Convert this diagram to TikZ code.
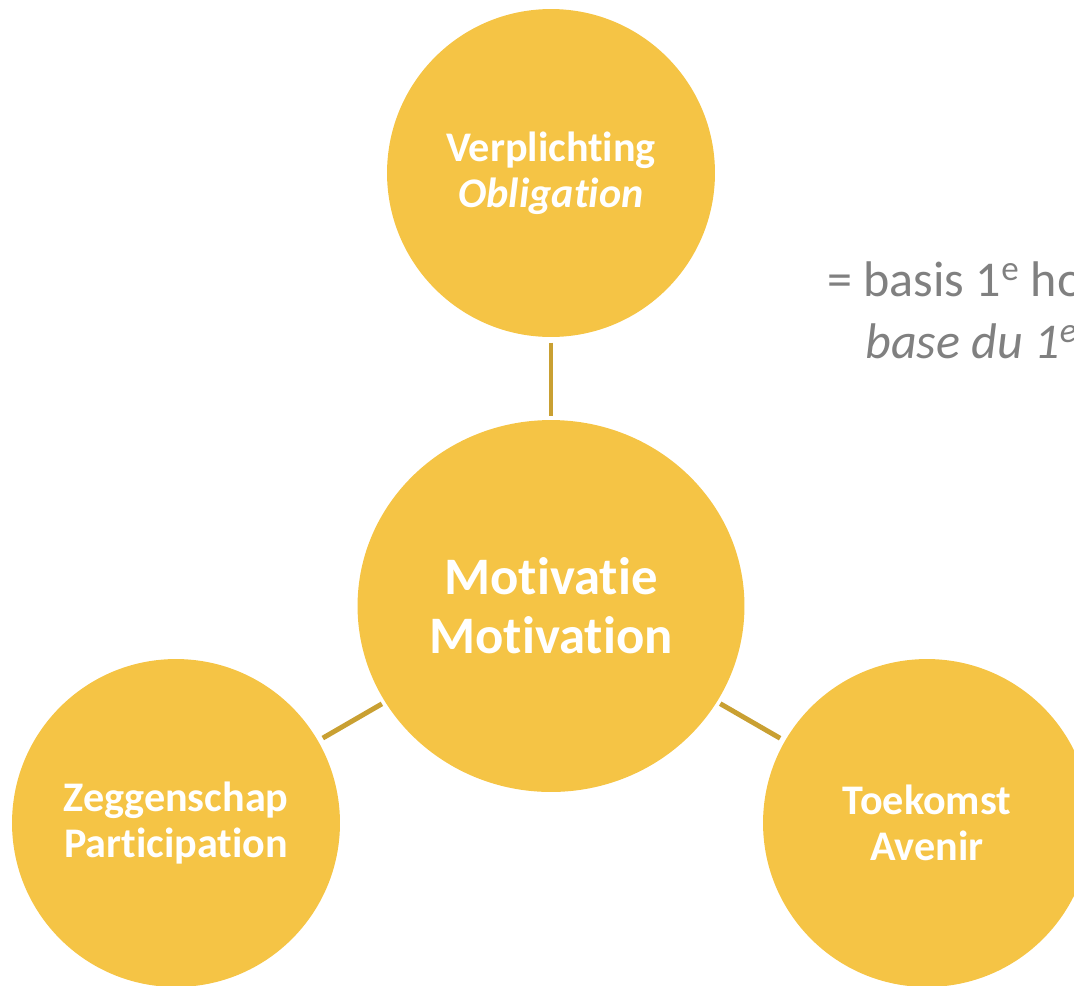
\documentclass[tikz,border=0pt]{standalone}
\usepackage{fontspec}
\setmainfont{Carlito}[Ligatures=NoCommon]
\usetikzlibrary{shapes.geometric}
\definecolor{bolgeel}{HTML}{F5C445}
\definecolor{lijnoker}{HTML}{C9A032}
\definecolor{tekstgrijs}{HTML}{808080}

\begin{document}
\begin{tikzpicture}[x=0.02cm,y=-0.02cm,
    bol/.style={circle,fill=bolgeel,minimum size=6.56cm,inner sep=0pt,
      text=white,font=\fontsize{24}{26}\selectfont\bfseries,align=center},
    lijn/.style={draw=lijnoker,line width=2.8pt,shorten <=3pt,shorten >=2pt},
    uitleg/.style={anchor=base west,inner sep=0pt,text=tekstgrijs,
      font=\fontsize{28.5}{32}\selectfont}]
  \useasboundingbox (0,0) rectangle (1074,985);
  \clip (0,0) rectangle (1074,985);
  \node[bol] (plicht) at (551,173) {Verplichting\\\textit{Obligation}};
  \node[ellipse,fill=bolgeel,minimum width=7.74cm,minimum height=7.44cm,inner sep=0pt,
    text=white,font=\fontsize{30}{33.5}\selectfont\bfseries,align=center]
    (motief) at (551,606) {Motivatie\\Motivation};
  \node[bol] (inspraak) at (176,823) {Zeggenschap\\Participation};
  \node[bol] (toekomst) at (927,823) {Toekomst\\Avenir};
  \draw[lijn] (plicht) -- (motief);
  \draw[lijn] (inspraak) -- (motief);
  \draw[lijn] (toekomst) -- (motief);
  % uitleg rechts, loopt over de rand
  \node[uitleg] (basis) at (827,296) {= basis 1\textsuperscript{e} ho};
  \node[uitleg,font=\fontsize{28.5}{32}\selectfont\itshape] (base) at (865,358) {base du 1\textsuperscript{e}};
\end{tikzpicture}
\end{document}
